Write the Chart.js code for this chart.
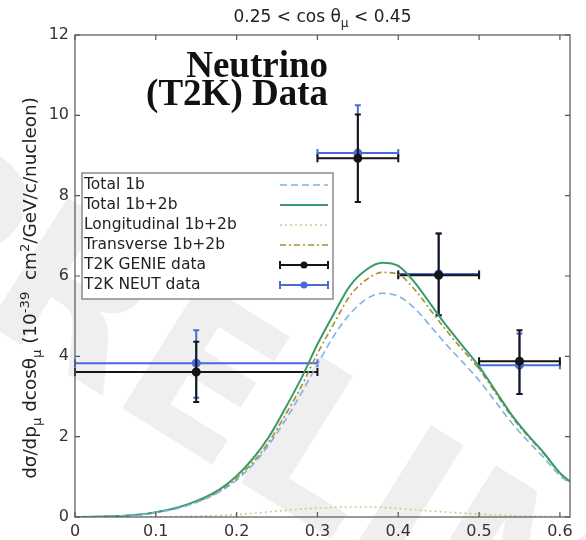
<!DOCTYPE html>
<html>
<head>
<meta charset="utf-8">
<script src="https://cdn.jsdelivr.net/npm/chart.js@4.4.1/dist/chart.umd.min.js"></script>
<style>
  html, body { margin: 0; padding: 0; background: #fff; }
  canvas { display: block; }
</style>
</head>
<body>
<canvas id="xsecChart" width="586" height="540"></canvas>
<script>
// muon momentum grid for the model curves
const pmu = [0, 0.02, 0.04, 0.06, 0.08, 0.10, 0.12, 0.14, 0.16, 0.18, 0.20, 0.22, 0.24, 0.26, 0.28, 0.30,
  0.32, 0.34, 0.36, 0.38, 0.40, 0.42, 0.44, 0.46, 0.48, 0.50, 0.52, 0.54, 0.56, 0.58, 0.60, 0.6125];
const total1b = [0, 0.005, 0.013, 0.028, 0.055, 0.11, 0.18, 0.29, 0.44, 0.64, 0.92, 1.3, 1.8, 2.4, 3.08, 3.8,
  4.5, 5.05, 5.42, 5.57, 5.5, 5.2, 4.75, 4.28, 3.85, 3.4, 2.88, 2.35, 1.9, 1.48, 1.03, 0.84];
const total1b2b = [0, 0.005, 0.015, 0.03, 0.06, 0.12, 0.2, 0.32, 0.48, 0.7, 1.02, 1.45, 2.0, 2.7, 3.45, 4.3,
  5.05, 5.75, 6.15, 6.33, 6.25, 5.85, 5.3, 4.75, 4.25, 3.75, 3.15, 2.55, 2.05, 1.6, 1.1, 0.88];
const long1b2b = [0, 0, 0, 0.001, 0.003, 0.005, 0.008, 0.015, 0.025, 0.04, 0.06, 0.09, 0.13, 0.165, 0.195, 0.22,
  0.24, 0.25, 0.25, 0.24, 0.21, 0.18, 0.15, 0.12, 0.095, 0.07, 0.05, 0.035, 0.025, 0.015, 0.01, 0.008];
const trans1b2b = [0, 0.005, 0.015, 0.03, 0.057, 0.115, 0.192, 0.305, 0.455, 0.66, 0.96, 1.36, 1.87, 2.53, 3.25, 4.07,
  4.8, 5.5, 5.9, 6.09, 6.04, 5.67, 5.15, 4.63, 4.15, 3.68, 3.1, 2.51, 2.02, 1.58, 1.09, 0.87];

// T2K data, one entry per p_mu bin
const binCentre = [0.15, 0.35, 0.45, 0.55];
const binLow = [0, 0.3, 0.4, 0.5];
const binHigh = [0.3, 0.4, 0.5, 0.6];
const genieY = [3.61, 8.93, 6.02, 3.88];
const genieLo = [2.86, 7.84, 5.02, 3.06];
const genieHi = [4.36, 10.02, 7.06, 4.65];
const neutY = [3.83, 9.06, 6.05, 3.78];
const neutLo = [2.97, 7.84, 5.02, 3.06];
const neutHi = [4.65, 10.25, 7.06, 4.57];

const xTicks = [0, 0.1, 0.2, 0.3, 0.4, 0.5, 0.6];
const yTicks = [0, 2, 4, 6, 8, 10, 12];

const FONT = '"DejaVu Sans", sans-serif';

const curve = (ys) => pmu.map((x, i) => ({ x: x, y: ys[i] }));
const points = (ys) => binCentre.map((x, i) => ({ x: x, y: ys[i] }));

// superscript / subscript text helper
const richFont = (s) => s + 'px ' + FONT;
function richWidth(ctx, parts, size) {
  let w = 0;
  parts.forEach(p => { ctx.font = richFont(p[1] ? size * 0.72 : size); w += ctx.measureText(p[0]).width; });
  return w;
}
function drawRich(ctx, parts, size, x, y) {
  parts.forEach(p => {
    ctx.font = richFont(p[1] ? size * 0.72 : size);
    const dy = p[1] === 'sub' ? size * 0.3 : p[1] === 'sup' ? -size * 0.42 : 0;
    ctx.fillText(p[0], x, y + dy);
    x += ctx.measureText(p[0]).width;
  });
}

const titleParts = [['0.25 < cos θ'], ['μ', 'sub'], [' < 0.45']];
const yTitleParts = [['dσ/dp'], ['μ', 'sub'], [' dcosθ'], ['μ', 'sub'], [' (10'], ['-39', 'sup'],
  ['  cm'], ['2', 'sup'], ['/GeV/c/nucleon)']];

const watermark = {
  id: 'watermark',
  beforeDraw(chart) {
    const ctx = chart.ctx;
    ctx.save();
    ctx.fillStyle = '#fff';
    ctx.fillRect(0, 0, chart.width, chart.height);
    ctx.translate(-155, 235);
    ctx.rotate(32 * Math.PI / 180);
    ctx.font = 'bold 205px ' + FONT;
    ctx.fillStyle = '#efefef';
    ctx.fillText('PRELIMINARY', 0, 0);
    ctx.restore();
  }
};

const errorBars = {
  id: 'errorBars',
  beforeDatasetDraw(chart, args) {
    const ds = chart.data.datasets[args.index];
    if (!ds.yLo) return;
    const xs = chart.scales.x, ys = chart.scales.y, ctx = chart.ctx;
    ctx.save();
    ctx.strokeStyle = ds.borderColor;
    ctx.lineWidth = 2;
    ds.data.forEach((p, i) => {
      const px = xs.getPixelForValue(p.x), py = ys.getPixelForValue(p.y);
      const x0 = xs.getPixelForValue(binLow[i]), x1 = xs.getPixelForValue(binHigh[i]);
      const y0 = ys.getPixelForValue(ds.yLo[i]), y1 = ys.getPixelForValue(ds.yHi[i]);
      ctx.beginPath();
      ctx.moveTo(x0, py); ctx.lineTo(x1, py);
      ctx.moveTo(px, y0); ctx.lineTo(px, y1);
      ctx.moveTo(x0, py - 4); ctx.lineTo(x0, py + 4);
      ctx.moveTo(x1, py - 4); ctx.lineTo(x1, py + 4);
      ctx.moveTo(px - 3, y0); ctx.lineTo(px + 3, y0);
      ctx.moveTo(px - 3, y1); ctx.lineTo(px + 3, y1);
      ctx.stroke();
    });
    ctx.restore();
  }
};

const frameAndText = {
  id: 'frameAndText',
  afterDatasetsDraw(chart) {
    const ctx = chart.ctx;
    // legend box
    const bx = 82, by = 173, bw = 251, bh = 126;
    ctx.save();
    ctx.fillStyle = '#fff';
    ctx.fillRect(bx, by, bw, bh);
    ctx.strokeStyle = '#8a8a8a';
    ctx.lineWidth = 1.5;
    ctx.strokeRect(bx, by, bw, bh);
    ctx.font = '15.5px ' + FONT;
    ctx.textBaseline = 'middle';
    ctx.fillStyle = '#222';
    chart.data.datasets.forEach((ds, i) => {
      const y = by + 12 + i * 20;
      ctx.fillText(ds.label, bx + 2, y);
      ctx.strokeStyle = ds.borderColor;
      ctx.lineWidth = ds.borderWidth || 2;
      ctx.setLineDash(ds.borderDash || []);
      ctx.beginPath();
      ctx.moveTo(bx + 198, y); ctx.lineTo(bx + 246, y);
      ctx.stroke();
      ctx.setLineDash([]);
      if (ds.yLo) {
        ctx.beginPath();
        ctx.moveTo(bx + 198, y - 4); ctx.lineTo(bx + 198, y + 4);
        ctx.moveTo(bx + 246, y - 4); ctx.lineTo(bx + 246, y + 4);
        ctx.stroke();
        ctx.fillStyle = ds.backgroundColor;
        ctx.beginPath();
        ctx.arc(bx + 222, y, 3.5, 0, Math.PI * 2);
        ctx.fill();
        ctx.fillStyle = '#222';
      }
    });
    ctx.restore();
  },
  afterDraw(chart) {
    const ctx = chart.ctx, a = chart.chartArea;
    const xs = chart.scales.x, ys = chart.scales.y;
    ctx.save();
    ctx.strokeStyle = '#555';
    ctx.lineWidth = 1.2;
    ctx.strokeRect(a.left, a.top, a.right - a.left, a.bottom - a.top);
    ctx.beginPath();
    xTicks.forEach(v => {
      const px = xs.getPixelForValue(v);
      ctx.moveTo(px, a.bottom); ctx.lineTo(px, a.bottom - 5);
      ctx.moveTo(px, a.top); ctx.lineTo(px, a.top + 5);
    });
    yTicks.forEach(v => {
      const py = ys.getPixelForValue(v);
      ctx.moveTo(a.left, py); ctx.lineTo(a.left + 5, py);
      ctx.moveTo(a.right, py); ctx.lineTo(a.right - 5, py);
    });
    ctx.stroke();

    // title
    ctx.fillStyle = '#222';
    ctx.textBaseline = 'alphabetic';
    const tw = richWidth(ctx, titleParts, 17);
    drawRich(ctx, titleParts, 17, (a.left + a.right) / 2 - tw / 2, 22);

    // y axis title
    ctx.translate(36, (a.top + a.bottom) / 2 + 12);
    ctx.rotate(-Math.PI / 2);
    ctx.scale(1.08, 1);
    const yw = richWidth(ctx, yTitleParts, 17);
    drawRich(ctx, yTitleParts, 17, -yw / 2, 0);
    ctx.restore();

    // in-plot annotation
    ctx.save();
    ctx.fillStyle = '#111';
    ctx.font = 'bold 37px "Liberation Serif", serif';
    ctx.textAlign = 'right';
    ctx.fillText('Neutrino', 328, 77);
    ctx.fillText('(T2K) Data', 328, 105);
    ctx.restore();
  }
};

new Chart(document.getElementById('xsecChart'), {
  type: 'scatter',
  data: {
    datasets: [
      { type: 'line', label: 'Total 1b', data: curve(total1b), borderColor: '#80b2e2', borderWidth: 1.6,
        borderDash: [7, 4], pointRadius: 0, fill: false, cubicInterpolationMode: 'monotone' },
      { type: 'line', label: 'Total 1b+2b', data: curve(total1b2b), borderColor: '#3b9a6c', borderWidth: 2,
        pointRadius: 0, fill: false, cubicInterpolationMode: 'monotone' },
      { type: 'line', label: 'Longitudinal 1b+2b', data: curve(long1b2b), borderColor: '#d6c68e', borderWidth: 1.6,
        borderDash: [2, 3], pointRadius: 0, fill: false, cubicInterpolationMode: 'monotone' },
      { type: 'line', label: 'Transverse 1b+2b', data: curve(trans1b2b), borderColor: '#a8902e', borderWidth: 1.6,
        borderDash: [6, 3, 2, 3], pointRadius: 0, fill: false, cubicInterpolationMode: 'monotone' },
      { label: 'T2K GENIE data', data: points(genieY), yLo: genieLo, yHi: genieHi, borderColor: '#151515',
        backgroundColor: '#151515', borderWidth: 2, pointRadius: 3.5 },
      { label: 'T2K NEUT data', data: points(neutY), yLo: neutLo, yHi: neutHi, borderColor: '#4a6ad8',
        backgroundColor: '#4a6ad8', borderWidth: 2, pointRadius: 3.5 }
    ]
  },
  options: {
    responsive: false,
    animation: false,
    layout: { padding: { left: 0, right: 16, top: 35, bottom: 0 } },
    plugins: { legend: { display: false }, tooltip: { enabled: false } },
    scales: {
      x: {
        type: 'linear', min: 0, max: 0.6125,
        grid: { display: false, drawTicks: false }, border: { display: false },
        ticks: { font: { family: FONT, size: 16 }, color: '#333', padding: 5, callback: v => String(v) },
        afterBuildTicks: s => { s.ticks = xTicks.map(v => ({ value: v })); },
        afterFit: s => { s.height = 23; }
      },
      y: {
        min: 0, max: 12,
        grid: { display: false, drawTicks: false }, border: { display: false },
        ticks: { font: { family: FONT, size: 16 }, color: '#333', padding: 6, callback: v => String(v) },
        afterBuildTicks: s => { s.ticks = yTicks.map(v => ({ value: v })); },
        afterFit: s => { s.width = 75; }
      }
    }
  },
  plugins: [watermark, errorBars, frameAndText]
});
</script>
</body>
</html>
